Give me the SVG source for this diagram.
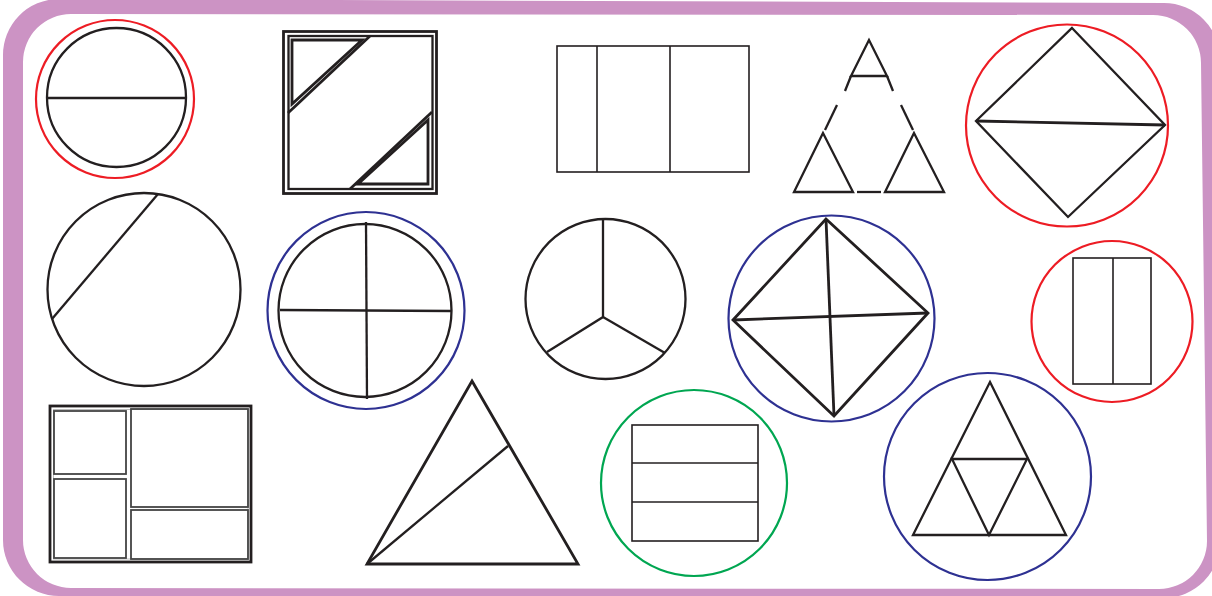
<svg xmlns="http://www.w3.org/2000/svg" width="1212" height="596" viewBox="0 0 1212 596">
<style>
.k{fill:none;stroke:#231f20;stroke-width:2.3;stroke-linejoin:miter}
.k3{fill:none;stroke:#231f20;stroke-width:2.8}
.t{fill:none;stroke:#231f20;stroke-width:1.6}
.red{fill:none;stroke:#ed1c24;stroke-width:2.2}
.blue{fill:none;stroke:#2e3192;stroke-width:2.2}
.green{fill:none;stroke:#00a651;stroke-width:2.2}
.g{fill:none;stroke:#444;stroke-width:1.8}
</style>
<rect width="1212" height="596" fill="#fff"/>
<g id="frame">
<path d="M3 56 A56 56 0 0 1 59 -1 L1164 3 A56 56 0 0 1 1220 59 L1220 542 A56 56 0 0 1 1164 598 L59 596 A56 56 0 0 1 3 540 Z" fill="#cc93c4"/>
<path d="M23 62 A48 48 0 0 1 71 14 L1153 15 A48 48 0 0 1 1201 63 L1207 541 A48 48 0 0 1 1159 589 L71 588 A48 48 0 0 1 23 540 Z" fill="#fff"/>
</g>
<g id="halves-circle">
<circle cx="115" cy="99" r="79" class="red"/>
<circle cx="116.5" cy="97.5" r="69.5" class="k"/>
<line x1="47" y1="98" x2="186" y2="98" class="k"/>
</g>
<g id="square-triangles">
<rect x="283.5" y="31.5" width="153" height="162" class="k3"/>
<rect x="288.5" y="36" width="144" height="153" class="k"/>
<line x1="370" y1="36" x2="288" y2="113" class="k3"/>
<polygon points="292,40 362,40 292,104" class="k3"/>
<line x1="432" y1="112" x2="350" y2="189" class="k3"/>
<polygon points="428,120 428,184 358,184" class="k3"/>
</g>
<g id="rect-thirds">
<rect x="557" y="46" width="192" height="126" class="t"/>
<line x1="597" y1="46" x2="597" y2="172" class="t"/>
<line x1="670" y1="46" x2="670" y2="172" class="t"/>
</g>
<g id="triangle-pieces">
<polygon points="869,40 851,76 887,76" class="k"/>
<line x1="851" y1="76" x2="845" y2="91" class="k"/>
<line x1="887" y1="76" x2="893" y2="91" class="k"/>
<line x1="837" y1="105" x2="825" y2="130" class="k"/>
<line x1="901" y1="105" x2="913" y2="130" class="k"/>
<polygon points="823,133 794,192 853,192" class="k"/>
<polygon points="914,133 885,192 944,192" class="k"/>
<line x1="857" y1="192" x2="881" y2="192" class="k"/>
</g>
<g id="diamond-red">
<circle cx="1067" cy="125.5" r="101" class="red"/>
<polygon points="1072,28 1165,125 1068,217 976,121" class="k"/>
<line x1="976" y1="121" x2="1165" y2="125" class="k3"/>
</g>
<g id="circle-chord">
<circle cx="144" cy="289.5" r="96.5" class="k"/>
<line x1="158" y1="194" x2="52" y2="319" class="k"/>
</g>
<g id="circle-quarters">
<circle cx="366" cy="310.5" r="98.5" class="blue"/>
<circle cx="365" cy="310.5" r="86.5" class="k"/>
<line x1="366" y1="222" x2="367" y2="399" class="k"/>
<line x1="280" y1="310" x2="451" y2="311" class="k"/>
</g>
<g id="circle-thirds">
<circle cx="605.5" cy="299" r="80" class="k"/>
<polyline points="603,219 603,317 547,352" class="k"/>
<line x1="603" y1="317" x2="665" y2="353" class="k"/>
</g>
<g id="diamond-blue">
<circle cx="831.5" cy="318.5" r="103" class="blue"/>
<polygon points="826,219 928,313 834,416 733,320" class="k3"/>
<line x1="826" y1="219" x2="834" y2="416" class="k3"/>
<line x1="733" y1="320" x2="928" y2="313" class="k3"/>
</g>
<g id="rect-halves">
<circle cx="1112" cy="321.5" r="80.5" class="red"/>
<rect x="1073" y="258" width="78" height="126" class="t"/>
<line x1="1113" y1="258" x2="1113" y2="384" class="t"/>
</g>
<g id="rect-parts">
<rect x="50" y="406" width="201" height="156" class="k3"/>
<rect x="53.5" y="409.5" width="194.5" height="149.5" fill="none" stroke="#bbb" stroke-width="1"/>
<rect x="54" y="411" width="72" height="63" class="g"/>
<rect x="54" y="479" width="72" height="79" class="g"/>
<rect x="131" y="409" width="117" height="98" class="g"/>
<rect x="131" y="510" width="117" height="49" class="g"/>
</g>
<g id="triangle-split">
<polygon points="472,381 578,564 367,564" class="k3"/>
<line x1="367" y1="564" x2="508" y2="446" class="k"/>
</g>
<g id="rect-rows">
<circle cx="694" cy="483" r="93" class="green"/>
<rect x="632" y="425" width="126" height="116" class="t"/>
<line x1="632" y1="463" x2="758" y2="463" class="t"/>
<line x1="632" y1="502" x2="758" y2="502" class="t"/>
</g>
<g id="triforce">
<circle cx="987.5" cy="476.5" r="103.5" class="blue"/>
<polygon points="990,382 1066,535 913,535" class="k"/>
<polygon points="952,459 1027,459 989,535" class="k"/>
</g>
</svg>
